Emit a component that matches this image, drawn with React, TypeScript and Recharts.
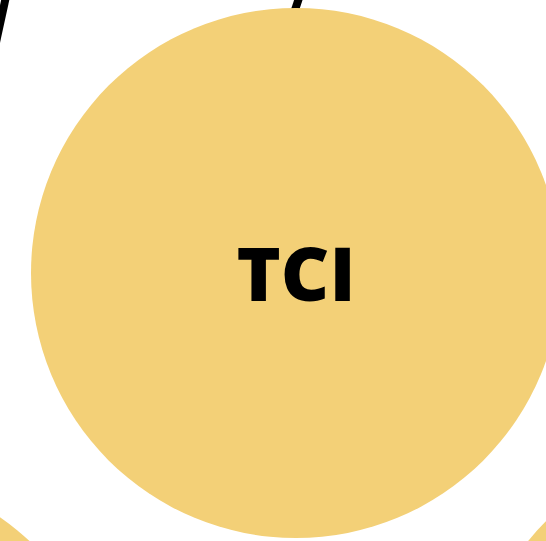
import React from 'react';
import { ScatterChart, Scatter, XAxis, YAxis } from 'recharts';

const W = 546;
const H = 541;

// nodes (view units = pixels of the zoomed network view)
const nodeNames = ['TCI', 'left', 'right'];
const nodeX = [296, -151, 733];
const nodeY = [273, 735, 709];
const nodeR = [265, 265, 265];
const nodeLabels = ['TCI', '', ''];

// edges, partly hidden under the nodes
const edgeA = [
  { x: -20, y: 116 },
  { x: 285, y: 40 },
];
const edgeB = [
  { x: 15, y: -45 },
  { x: 310, y: -35 },
];

const nodes = nodeNames.map((name, i) => ({
  name,
  x: nodeX[i],
  y: nodeY[i],
  r: nodeR[i],
  label: nodeLabels[i],
}));

const NodeShape = (props: any) => {
  const { cx, cy, payload } = props;
  return (
    <g>
      <circle cx={cx} cy={cy} r={payload.r} fill="#F3D077" />
      {payload.label ? (
        <text
          x={cx}
          y={cy - 1}
          textAnchor="middle"
          dominantBaseline="central"
          fontFamily="'Open Sans', sans-serif"
          fontWeight={800}
          fontSize={75}
          fill="#000"
        >
          {payload.label}
        </text>
      ) : null}
    </g>
  );
};

const NoDot = () => <g />;

const App = () => {
  return (
    <div style={{ position: 'absolute', left: 0, top: 0, width: W, height: H, background: '#fff' }}>
      <ScatterChart width={W} height={H} margin={{ top: 0, right: 0, bottom: 0, left: 0 }}>
        <XAxis type="number" dataKey="x" domain={[0, W]} allowDataOverflow hide />
        <YAxis type="number" dataKey="y" domain={[0, H]} allowDataOverflow reversed hide width={0} />
        {edgeA.map((a, i) => (
          <Scatter
            key={i}
            data={[a, edgeB[i]]}
            line={{ stroke: '#000', strokeWidth: 8 }}
            shape={<NoDot />}
            isAnimationActive={false}
          />
        ))}
        <Scatter data={nodes} shape={<NodeShape />} isAnimationActive={false} />
      </ScatterChart>
    </div>
  );
};

export default App;
